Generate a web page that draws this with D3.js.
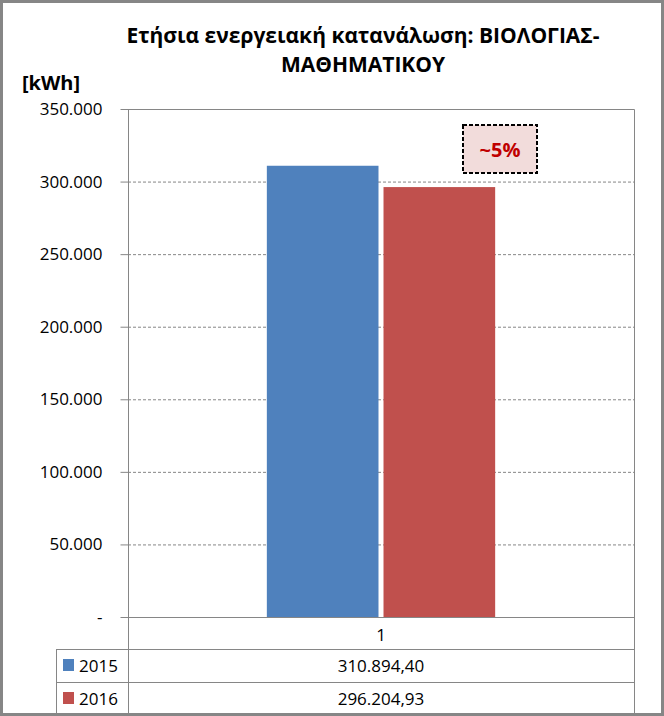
<!DOCTYPE html>
<html>
<head>
<meta charset="utf-8">
<script src="https://cdn.jsdelivr.net/npm/d3@7"></script>
<style>
  body { margin: 0; background: #fff; }
  svg { display: block; font-family: "Open Sans", "Liberation Sans", sans-serif; }
</style>
</head>
<body>
<svg id="chart" width="664" height="716"></svg>
<script>
const categories = ["1"];
const seriesNames = ["2015", "2016"];
const seriesValues = [310894.40, 296204.93];
const seriesColors = ["#4f81bd", "#c0504d"];
const yTicks = [0, 50000, 100000, 150000, 200000, 250000, 300000, 350000];
const titleLines = ["Ετήσια ενεργειακή κατανάλωση: ΒΙΟΛΟΓΙΑΣ-", "ΜΑΘΗΜΑΤΙΚΟΥ"];
const unitLabel = "[kWh]";
const noteLabel = "~5%";

const svg = d3.select("#chart");
const W = 664, H = 716;

// greek number style: 310.894,40
const gr = d3.formatLocale({ decimal: ",", thousands: ".", grouping: [3], currency: ["", "€"] });
const fmtTick = v => v === 0 ? "-" : gr.format(",.0f")(v);
const fmtVal = gr.format(",.2f");

const plot = { left: 128, right: 634, top: 109, bottom: 617 };

const x = d3.scaleBand().domain(categories).range([plot.left, plot.right]).paddingInner(0).paddingOuter(0);
const xs = d3.scaleBand().domain(seriesNames).range([0, x.bandwidth()]).paddingInner(0.043).paddingOuter(1.19);
const y = d3.scaleLinear().domain([0, 350000]).range([plot.bottom, plot.top]);

// outer frame
svg.append("rect")
    .attr("x", 1.5).attr("y", 1.5).attr("width", W - 3).attr("height", H - 3)
    .attr("fill", "#fff").attr("stroke", "#868686").attr("stroke-width", 3);

// title
svg.append("g").selectAll("text")
    .data(titleLines)
    .join("text")
    .attr("x", 363).attr("y", (d, i) => 43 + i * 29)
    .attr("text-anchor", "middle")
    .attr("font-size", 21).attr("font-weight", "bold")
    .attr("fill", "#000")
    .text(d => d);

svg.append("text")
    .attr("x", 22).attr("y", 90)
    .attr("font-size", 20).attr("font-weight", "bold")
    .text(unitLabel);

// gridlines
svg.append("g").selectAll("line")
    .data(yTicks.filter(t => t > 0 && t < 350000))
    .join("line")
    .attr("x1", plot.left).attr("x2", plot.right)
    .attr("y1", d => y(d) + 0.5).attr("y2", d => y(d) + 0.5)
    .attr("stroke", "#868686").attr("stroke-dasharray", "3,2");

// plot frame top + right
svg.append("path")
    .attr("d", `M${plot.left},${plot.top + 0.5}H${plot.right + 0.5}V${plot.bottom}`)
    .attr("fill", "none").attr("stroke", "#868686");

// y axis
const yAxis = svg.append("g")
    .attr("transform", `translate(${plot.left + 0.5},0)`)
    .call(d3.axisLeft(y).tickValues(yTicks).tickFormat(fmtTick).tickSize(8).tickPadding(18));
yAxis.select(".domain").attr("stroke", "#868686").attr("d", `M0,${plot.top}V${H - 3}`);
yAxis.selectAll(".tick line").attr("stroke", "#868686");
yAxis.selectAll(".tick text")
    .attr("font-size", 17).attr("fill", "#000")
    .attr("font-family", "Open Sans, Liberation Sans, sans-serif");

// bars
svg.append("g").selectAll("rect")
    .data(seriesValues)
    .join("rect")
    .attr("x", (d, i) => x(categories[0]) + xs(seriesNames[i]))
    .attr("width", xs.bandwidth())
    .attr("y", d => y(d))
    .attr("height", d => y(0) - y(d))
    .attr("fill", (d, i) => seriesColors[i]);

// data table
const rowH = [plot.bottom, 649, 682, H - 3];
const tableLeft = 56;
const tg = svg.append("g").attr("stroke", "#868686").attr("fill", "none");
tg.append("line").attr("x1", plot.left).attr("x2", plot.right).attr("y1", rowH[0] + 0.5).attr("y2", rowH[0] + 0.5);
tg.append("line").attr("x1", tableLeft).attr("x2", plot.right).attr("y1", rowH[1] + 0.5).attr("y2", rowH[1] + 0.5);
tg.append("line").attr("x1", tableLeft).attr("x2", plot.right).attr("y1", rowH[2] + 0.5).attr("y2", rowH[2] + 0.5);
tg.append("line").attr("x1", tableLeft + 0.5).attr("x2", tableLeft + 0.5).attr("y1", rowH[1]).attr("y2", rowH[3]);
tg.append("line").attr("x1", plot.right + 0.5).attr("x2", plot.right + 0.5).attr("y1", rowH[0]).attr("y2", rowH[3]);

svg.append("text")
    .attr("x", x(categories[0]) + x.bandwidth() / 2).attr("y", 641)
    .attr("text-anchor", "middle").attr("font-size", 17)
    .text(categories[0]);

const rows = svg.append("g").selectAll("g")
    .data(seriesValues)
    .join("g")
    .attr("transform", (d, i) => `translate(0,${rowH[i + 1]})`);
rows.append("rect")
    .attr("x", 63).attr("y", 10).attr("width", 11).attr("height", 12)
    .attr("fill", (d, i) => seriesColors[i]);
rows.append("text")
    .attr("x", 79).attr("y", 23).attr("font-size", 17)
    .text((d, i) => seriesNames[i]);
rows.append("text")
    .attr("x", x(categories[0]) + x.bandwidth() / 2).attr("y", 23)
    .attr("text-anchor", "middle").attr("font-size", 17)
    .text(d => fmtVal(d));

// annotation box
const note = svg.append("g");
note.append("rect")
    .attr("x", 463).attr("y", 125).attr("width", 74).attr("height", 48)
    .attr("fill", "#f2dcdb").attr("stroke", "#000").attr("stroke-width", 2)
    .attr("stroke-dasharray", "4,2");
note.append("text")
    .attr("x", 500).attr("y", 157).attr("text-anchor", "middle")
    .attr("font-size", 20).attr("font-weight", "bold").attr("fill", "#c00000")
    .text(noteLabel);
</script>
</body>
</html>
